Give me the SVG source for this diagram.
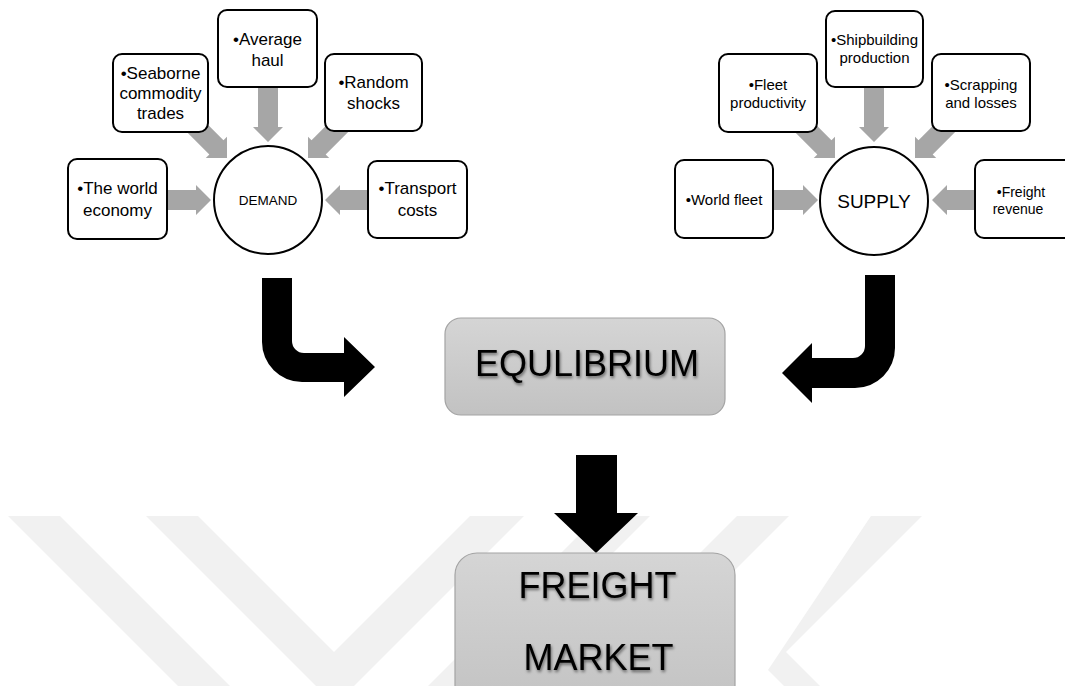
<svg xmlns="http://www.w3.org/2000/svg" width="1065" height="686" viewBox="0 0 1065 686">
<defs>
<style>
.box{fill:#fff;stroke:#000;stroke-width:2}
.circ{fill:#fff;stroke:#000;stroke-width:2}
.ga{fill:#a6a6a6}
.ba{fill:#000}
.t{font-family:"Liberation Sans",Arial,sans-serif;fill:#000;text-anchor:middle}
.d{font-size:17px}
.s{font-size:15px}
.big{font-family:"Liberation Sans",Arial,sans-serif;font-size:36px;fill:#000;text-anchor:middle;filter:url(#sh)}
.res{fill:url(#gr);stroke:#a3a3a3;stroke-width:1.2}
.wm{fill:#f1f1f1}
</style>
<linearGradient id="gr" x1="0" y1="0" x2="0" y2="1">
<stop offset="0" stop-color="#d5d5d5"/>
<stop offset="1" stop-color="#c2c2c2"/>
</linearGradient>
<filter id="sh" x="-10%" y="-20%" width="120%" height="150%">
<feGaussianBlur in="SourceAlpha" stdDeviation="1.4"/>
<feOffset dx="1" dy="2" result="b"/>
<feComponentTransfer><feFuncA type="linear" slope="0.5"/></feComponentTransfer>
<feMerge><feMergeNode/><feMergeNode in="SourceGraphic"/></feMerge>
</filter>
<path id="ah" d="M0,0 L-15,-15 L-15,-10 L-80,-10 L-80,10 L-15,10 L-15,15 Z"/>
</defs>
<rect width="1065" height="686" fill="#fff"/>
<g id="watermark">
<polygon class="wm" points="8,516 60,516 230,686 178,686"/>
<polygon class="wm" points="146,516 198,516 334,652 470,516 524,516 335,705"/>
<polygon class="wm" points="598,516 650,516 480,686 428,686"/>
<polygon class="wm" points="737,516 789,516 619,686 567,686"/>
<polygon class="wm" points="871,516 922,516 786,652 820,686 784,686 768,670"/>
</g>
<g id="connectors">
<use href="#ah" class="ga" transform="translate(211,200)"/>
<use href="#ah" class="ga" transform="translate(227,158) rotate(45)"/>
<use href="#ah" class="ga" transform="translate(268,142) rotate(90)"/>
<use href="#ah" class="ga" transform="translate(308,158) rotate(135)"/>
<use href="#ah" class="ga" transform="translate(325,200) rotate(180)"/>
<use href="#ah" class="ga" transform="translate(818,200)"/>
<use href="#ah" class="ga" transform="translate(835,158) rotate(45)"/>
<use href="#ah" class="ga" transform="translate(874,142) rotate(90)"/>
<use href="#ah" class="ga" transform="translate(915,158) rotate(135)"/>
<use href="#ah" class="ga" transform="translate(932,200) rotate(180)"/>
<path class="ba" d="M262,278 H292 V341 A12,12 0 0 0 304,353 H344 V337 L375,367 L344,397 V382 H302 A40,40 0 0 1 262,342 Z"/>
<path class="ba" d="M865,275 H895 V348 A40,40 0 0 1 855,388 H812 V403 L782,373 L812,343 V358 H853 A12,12 0 0 0 865,346 Z"/>
<path class="ba" d="M576,455 H617 V513 H638 L596,553 L554,513 H576 Z"/>
</g>
<g id="world-economy"><rect class="box" x="68" y="159" width="99" height="80" rx="9"/><text class="t d" x="117.5" y="194">•The world</text><text class="t d" x="117.5" y="216">economy</text></g>
<g id="seaborne"><rect class="box" x="113" y="54" width="95" height="78" rx="9"/><text class="t d" x="160.5" y="79">•Seaborne</text><text class="t d" x="160.5" y="99">commodity</text><text class="t d" x="160.5" y="119">trades</text></g>
<g id="average-haul"><rect class="box" x="218" y="10" width="99" height="77" rx="9"/><text class="t d" x="267.5" y="45">•Average</text><text class="t d" x="267.5" y="66">haul</text></g>
<g id="random-shocks"><rect class="box" x="325" y="54" width="97" height="77" rx="9"/><text class="t d" x="373.5" y="88">•Random</text><text class="t d" x="373.5" y="109">shocks</text></g>
<g id="transport-costs"><rect class="box" x="368" y="161" width="99" height="77" rx="9"/><text class="t d" x="417.5" y="194">•Transport</text><text class="t d" x="417.5" y="216">costs</text></g>
<g id="demand"><circle class="circ" cx="268" cy="200" r="54"/><text class="t" x="268" y="205" font-size="13.5">DEMAND</text></g>
<g id="world-fleet"><rect class="box" x="675" y="160" width="98" height="78" rx="9"/><text class="t s" x="724" y="205">•World fleet</text></g>
<g id="fleet-productivity"><rect class="box" x="719" y="54" width="98" height="78" rx="9"/><text class="t s" x="768" y="90">•Fleet</text><text class="t s" x="768" y="108">productivity</text></g>
<g id="shipbuilding"><rect class="box" x="826" y="11" width="97" height="76" rx="9"/><text class="t s" x="874.5" y="45">•Shipbuilding</text><text class="t s" x="874.5" y="63">production</text></g>
<g id="scrapping"><rect class="box" x="932" y="54" width="98" height="77" rx="9"/><text class="t s" x="981" y="90">•Scrapping</text><text class="t s" x="981" y="108">and losses</text></g>
<g id="freight-revenue"><rect class="box" x="975" y="160" width="98" height="78" rx="9"/><text class="t" x="1021" y="197" font-size="14">•Freight</text><text class="t" x="1018" y="214" font-size="14">revenue</text></g>
<g id="supply"><circle class="circ" cx="874" cy="201" r="54"/><text class="t" x="874" y="208" font-size="19">SUPPLY</text></g>
<g id="equilibrium"><rect class="res" x="445" y="318" width="280" height="97" rx="16"/><text class="big" x="587" y="376">EQULIBRIUM</text></g>
<g id="freight-market"><rect class="res" x="455" y="553" width="280" height="160" rx="22"/><text class="big" x="597.5" y="598">FREIGHT</text><text class="big" x="598.5" y="670">MARKET</text></g>
</svg>
